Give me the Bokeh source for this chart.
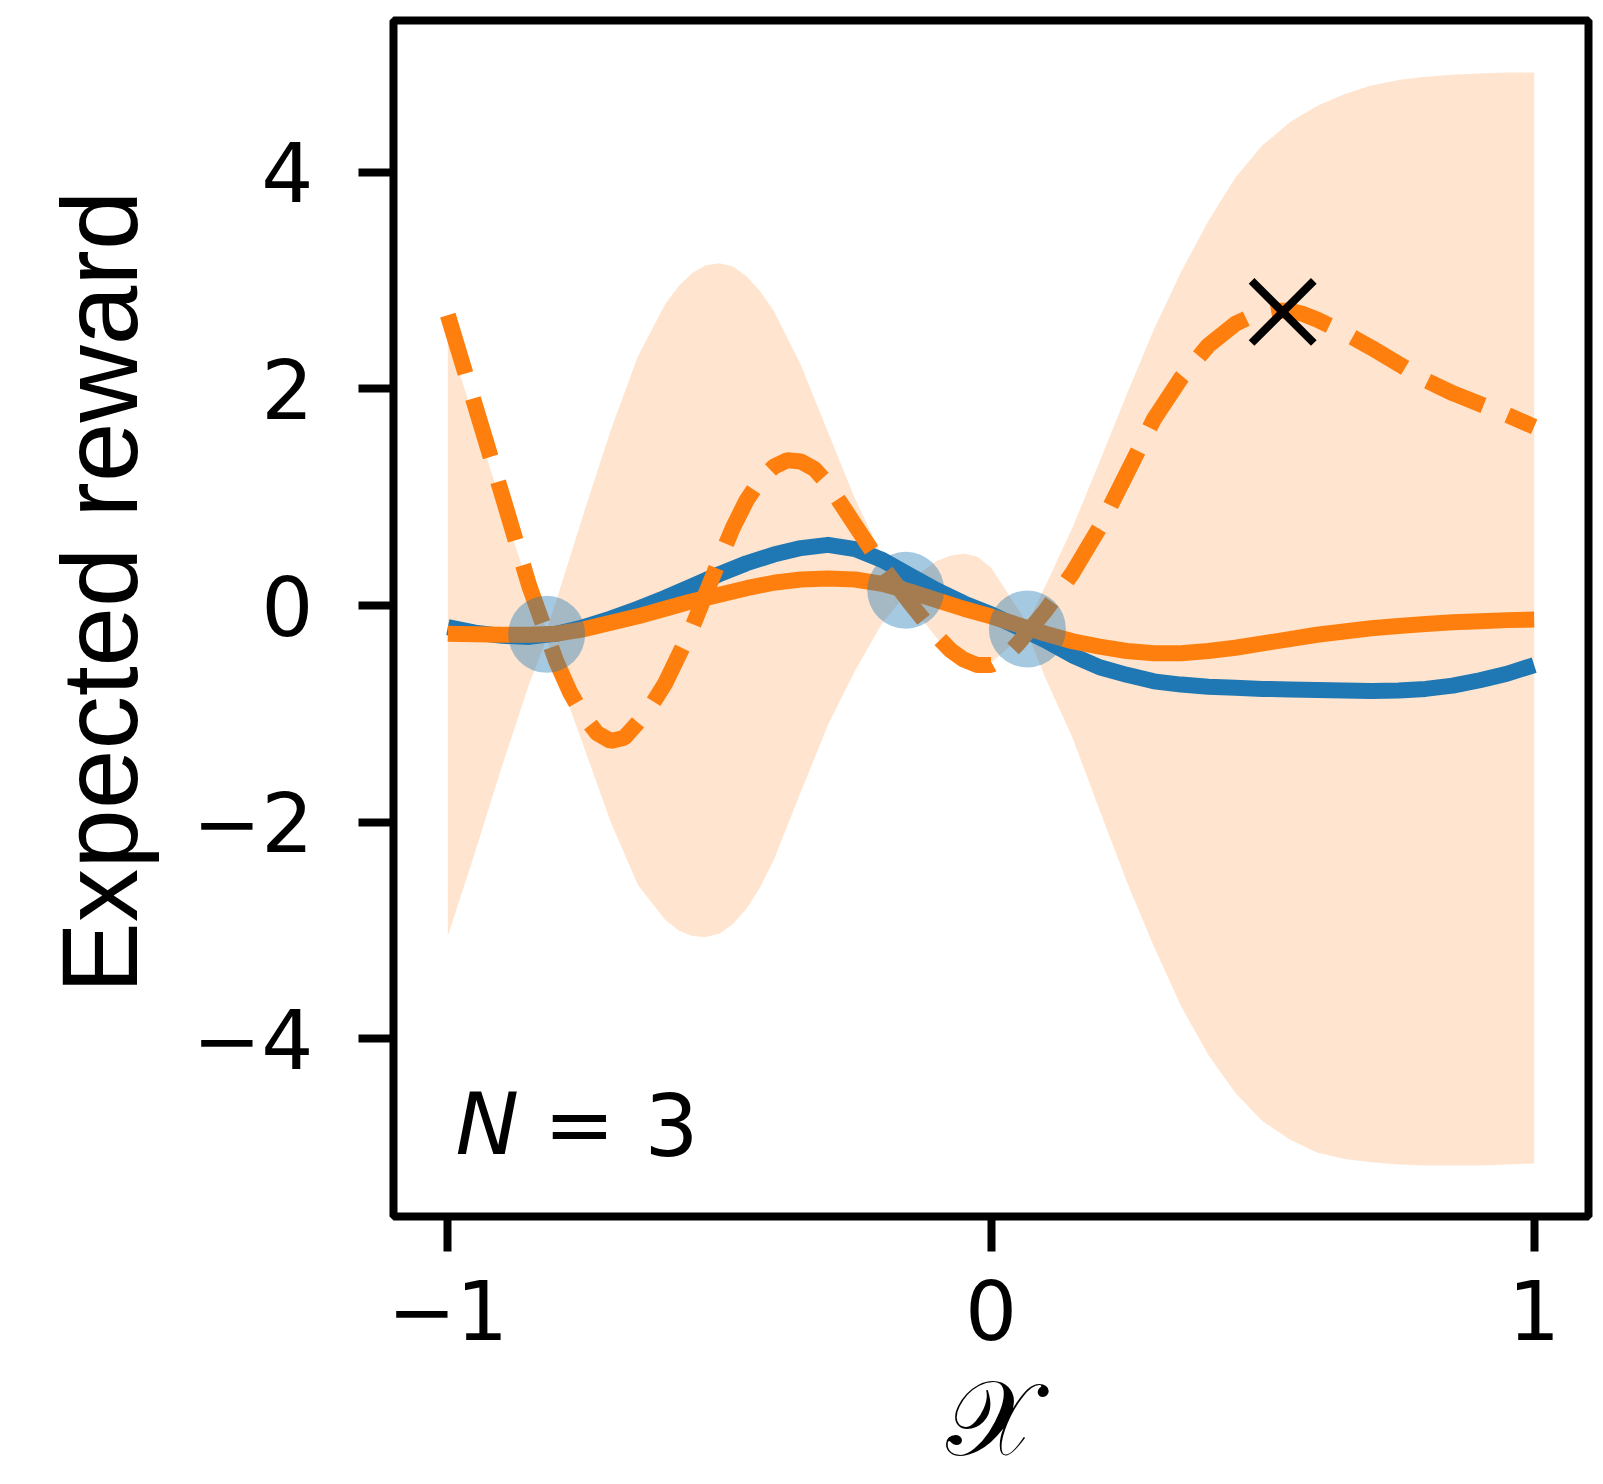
from bokeh.plotting import figure
from bokeh.models import Range1d, FixedTicker, Label, Title
from bokeh.embed import file_html
from bokeh.resources import INLINE

# ---- data ----
line_x = [-1.0, -0.95, -0.9, -0.85, -0.8, -0.75, -0.7, -0.65, -0.6, -0.55,
          -0.5, -0.45, -0.4, -0.35, -0.3, -0.25, -0.2, -0.15, -0.1, -0.05,
          0.0, 0.05, 0.1, 0.15, 0.2, 0.25, 0.3, 0.35, 0.4, 0.45,
          0.5, 0.55, 0.6, 0.65, 0.7, 0.75, 0.8, 0.85, 0.9, 0.95, 1.0]

true_reward = [-0.20, -0.25, -0.28, -0.29, -0.26, -0.20, -0.12, -0.03, 0.07, 0.18,
               0.29, 0.39, 0.47, 0.53, 0.56, 0.52, 0.42, 0.28, 0.14, 0.02,
               -0.08, -0.20, -0.32, -0.46, -0.57, -0.64, -0.70, -0.73, -0.75, -0.76,
               -0.77, -0.775, -0.78, -0.785, -0.79, -0.785, -0.77, -0.74, -0.69, -0.63, -0.55]

posterior_mean = [-0.26, -0.265, -0.27, -0.27, -0.26, -0.22, -0.16, -0.10, -0.03, 0.04,
                  0.10, 0.16, 0.21, 0.24, 0.25, 0.24, 0.20, 0.13, 0.05, -0.03,
                  -0.10, -0.18, -0.26, -0.33, -0.38, -0.42, -0.44, -0.44, -0.42, -0.39,
                  -0.35, -0.31, -0.27, -0.24, -0.21, -0.19, -0.17, -0.155, -0.145, -0.135, -0.13]

sample_x = [-1.0, -0.95, -0.9, -0.85, -0.8, -0.775, -0.75, -0.725, -0.7, -0.675,
            -0.65, -0.625, -0.6, -0.55, -0.5, -0.475, -0.45, -0.425, -0.4, -0.375,
            -0.35, -0.325, -0.3, -0.25, -0.2, -0.15, -0.1, -0.075, -0.05, -0.025,
            0.0, 0.025, 0.05, 0.1, 0.15, 0.2, 0.25, 0.3, 0.35, 0.4,
            0.45, 0.475, 0.5, 0.525, 0.55, 0.575, 0.6, 0.65, 0.7, 0.75,
            0.8, 0.85, 0.9, 0.95, 1.0]
posterior_sample = [2.68, 1.85, 1.02, 0.18, -0.52, -0.80, -1.02, -1.18, -1.25, -1.22,
                    -1.08, -0.92, -0.72, -0.20, 0.42, 0.72, 0.97, 1.16, 1.28, 1.34,
                    1.33, 1.26, 1.12, 0.74, 0.36, 0.03, -0.28, -0.41, -0.50, -0.55,
                    -0.55, -0.48, -0.35, -0.05, 0.30, 0.72, 1.22, 1.72, 2.10, 2.40,
                    2.60, 2.66, 2.70, 2.72, 2.72, 2.69, 2.64, 2.52, 2.38, 2.23,
                    2.08, 1.96, 1.86, 1.76, 1.65]

band_x = [-1.0, -0.95, -0.9, -0.85, -0.818, -0.8, -0.75, -0.7, -0.65, -0.6,
          -0.575, -0.55, -0.525, -0.5, -0.475, -0.45, -0.425, -0.4, -0.35, -0.3,
          -0.25, -0.2, -0.157, -0.125, -0.1, -0.075, -0.05, -0.025, 0.0, 0.03,
          0.067, 0.1, 0.15, 0.2, 0.25, 0.3, 0.35, 0.4, 0.45, 0.5,
          0.55, 0.6, 0.65, 0.7, 0.75, 0.8, 0.85, 0.9, 0.95, 1.0]
band_upper = [2.48, 1.70, 0.92, 0.16, -0.22, 0.05, 0.85, 1.62, 2.30, 2.78,
              2.95, 3.07, 3.14, 3.16, 3.13, 3.04, 2.90, 2.72, 2.22, 1.60,
              0.98, 0.46, 0.16, 0.32, 0.41, 0.46, 0.48, 0.45, 0.35, 0.12,
              -0.17, 0.18, 0.72, 1.33, 1.95, 2.55, 3.08, 3.55, 3.95, 4.25,
              4.46, 4.61, 4.72, 4.80, 4.85, 4.88, 4.90, 4.91, 4.92, 4.92]
band_lower = [-3.05, -2.28, -1.48, -0.72, -0.31, -0.60, -1.30, -2.00, -2.58, -2.90,
              -3.00, -3.05, -3.06, -3.03, -2.94, -2.80, -2.60, -2.35, -1.72, -1.10,
              -0.60, -0.16, 0.10, -0.14, -0.30, -0.44, -0.52, -0.55, -0.53, -0.40,
              -0.25, -0.67, -1.22, -1.89, -2.55, -3.15, -3.70, -4.15, -4.50, -4.76,
              -4.93, -5.05, -5.11, -5.14, -5.16, -5.17, -5.17, -5.17, -5.16, -5.15]

obs_x = [-0.818, -0.157, 0.067]
obs_y = [-0.266, 0.141, -0.217]

next_x = [0.537]
next_y = [2.71]

x_ticks = [-1, 0, 1]
x_tick_labels = ["\u22121", "0", "1"]
y_ticks = [-4, -2, 0, 2, 4]
y_tick_labels = ["\u22124", "\u22122", "0", "2", "4"]

BLUE = "#1f77b4"
ORANGE = "#ff7f0e"

p = figure(width=1600, height=1484, output_backend="svg", toolbar_location=None,
           x_range=Range1d(-1.1, 1.1), y_range=Range1d(-5.64, 5.40),
           min_border_left=393, min_border_right=12,
           min_border_top=20, min_border_bottom=268)
p.grid.visible = False
p.background_fill_color = "white"
p.border_fill_color = "white"
p.outline_line_color = "black"
p.outline_line_width = 8

for ax in (p.xaxis[0], p.yaxis[0]):
    ax.axis_line_color = None
    ax.major_tick_line_color = "black"
    ax.major_tick_line_width = 8
    ax.major_tick_in = 0
    ax.major_tick_out = 35
    ax.minor_tick_line_color = None
    ax.major_label_text_font = "DejaVu Sans"
    ax.major_label_text_font_size = "82px"
    ax.major_label_text_color = "black"

p.xaxis.ticker = FixedTicker(ticks=x_ticks)
p.xaxis.major_label_overrides = dict(zip(x_ticks, x_tick_labels))
p.xaxis.major_label_standoff = 28
p.yaxis.ticker = FixedTicker(ticks=y_ticks)
p.yaxis.major_label_overrides = dict(zip(y_ticks, y_tick_labels))
p.yaxis.major_label_standoff = 45

p.xaxis.axis_label = "\U0001D4B3"
p.xaxis.axis_label_text_font = "DejaVu Serif"
p.xaxis.axis_label_text_font_style = "normal"
p.xaxis.axis_label_text_font_size = "106px"
p.xaxis.axis_label_text_color = "black"
p.xaxis.axis_label_standoff = 14

ylabel = Title(text="Expected reward", align="left", offset=223, standoff=59,
               text_font="Liberation Sans", text_font_size="107px",
               text_font_style="normal", text_color="black")
p.add_layout(ylabel, "left")

# uncertainty band
p.varea(x=band_x, y1=band_lower, y2=band_upper, fill_color=ORANGE, fill_alpha=0.2)

# curves
p.line(line_x, true_reward, line_color=BLUE, line_width=16, line_join="round")
p.line(line_x, posterior_mean, line_color=ORANGE, line_width=16, line_join="round")
p.line(sample_x, posterior_sample, line_color=ORANGE, line_width=16, line_dash="61 26")

# observations
p.scatter(obs_x, obs_y, marker="circle", size=77, fill_color=BLUE, fill_alpha=0.4,
          line_color=None)

# next query
p.scatter(next_x, next_y, marker="x", size=88, line_color="black", line_width=8)

# N = 3 annotation
p.add_layout(Label(x=-0.986, y=-4.79, text="N", text_font="DejaVu Sans",
                   text_font_style="italic", text_font_size="85px",
                   text_align="left", text_baseline="alphabetic", text_color="black"))
p.add_layout(Label(x=-0.758, y=-4.79, text="=", text_font="DejaVu Sans",
                   text_font_size="85px", text_align="center",
                   text_baseline="alphabetic", text_color="black"))
p.add_layout(Label(x=-0.588, y=-4.79, text="3", text_font="DejaVu Sans",
                   text_font_size="85px", text_align="center",
                   text_baseline="alphabetic", text_color="black"))

open("out.html", "w").write(file_html(p, INLINE))
